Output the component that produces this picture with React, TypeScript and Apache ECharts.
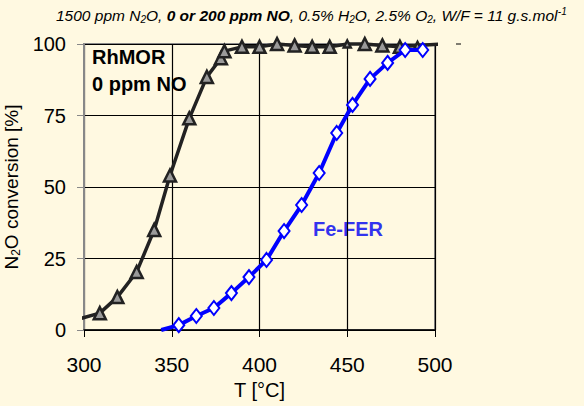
import React, { useEffect, useRef } from "react";
import * as echarts from "echarts";

const rhTemps = [298, 309, 319, 330, 340, 349, 360, 370, 378, 380, 390, 400, 410, 420, 430, 440, 450, 460, 470, 480, 490, 503];
const rhConv = [4, 5.9, 11.5, 20.3, 35, 54, 74, 88.5, 95, 97.5, 99, 99, 100, 99.5, 99, 99, 100, 100, 99.5, 99, 99.5, 100];
const feTemps = [344, 354, 364, 374, 384, 394, 404, 414, 424, 434, 444, 453, 463, 473, 483, 493];
const feConv = [0, 1.7, 4.9, 7.7, 12.9, 18.5, 24.5, 34.6, 43.7, 54.9, 68.9, 78.7, 87.8, 93.4, 97.9, 97.9];
const xTicks = [300, 350, 400, 450, 500];
const yTicks = [0, 25, 50, 75, 100];

export default function App() {
  const ref = useRef<HTMLDivElement>(null);
  useEffect(() => {
    const chart = echarts.init(ref.current!, null, { renderer: "svg" });
    const font = "Arial, 'Liberation Sans', sans-serif";
    const rhData = rhTemps.map((t, i) => {
      const item: any = { value: [t, rhConv[i]] };
      if (i === 0 || i === rhTemps.length - 1) item.symbol = "none";
      if (t === 450 || t === 490) item.symbolSize = 7;
      return item;
    });
    const feData = feTemps.map((t, i) => {
      const item: any = { value: [t, feConv[i]] };
      if (i === 0) item.symbol = "none";
      return item;
    });
    chart.setOption({
      animation: false,
      backgroundColor: "#FFF9E1",
      grid: { left: 84, right: 149, top: 44, bottom: 76, outerBoundsMode: "none", containLabel: false, show: true, borderColor: "#888", borderWidth: 2, backgroundColor: "transparent" },
      xAxis: {
        type: "value", min: xTicks[0], max: xTicks[xTicks.length - 1], interval: 50,
        name: "T [°C]", nameLocation: "middle", nameGap: 48,
        nameTextStyle: { fontFamily: font, fontSize: 20, color: "#000" },
        axisLine: { show: true, lineStyle: { color: "#000", width: 1.5 } },
        axisTick: { show: true, length: 7, lineStyle: { color: "#000" } },
        axisLabel: { fontFamily: font, fontSize: 21, color: "#000", margin: 24 },
        splitLine: { show: true, lineStyle: { color: "#000", width: 1.2 } },
      },
      yAxis: {
        type: "value", min: yTicks[0], max: yTicks[yTicks.length - 1], interval: 25,
        name: "{a|N}{s|2}{a|O conversion [%]}", nameLocation: "middle", nameGap: 48, nameRotate: 90,
        nameTextStyle: { fontFamily: font, fontSize: 19, color: "#000",
          rich: { a: { fontFamily: font, fontSize: 19, color: "#000" }, s: { fontFamily: font, fontSize: 12, color: "#000", verticalAlign: "bottom", padding: [9, 0, 0, 0] } } },
        axisLine: { show: true, lineStyle: { color: "#888", width: 2 } },
        axisTick: { show: true, length: 7, lineStyle: { color: "#888" } },
        axisLabel: { fontFamily: font, fontSize: 20, color: "#000", margin: 18 },
        splitLine: { show: true, lineStyle: { color: "#000", width: 1.2 } },
      },
      series: [
        {
          type: "line", data: rhData, clip: false, symbol: "triangle", symbolSize: 12,
          lineStyle: { color: "#222", width: 3.5 },
          itemStyle: { color: "#9a9a9a", borderColor: "#222", borderWidth: 2.5 },
          z: 3,
        },
        {
          type: "line", data: feData, clip: false, symbol: "diamond", symbolSize: [11, 14],
          lineStyle: { color: "#0000ff", width: 4 },
          itemStyle: { color: "#fff", borderColor: "#0000ff", borderWidth: 2 },
          z: 4,
        },
      ],
      graphic: [
        {
          type: "text", left: 56, top: 6,
          style: {
            text: "{i|1500 ppm N}{s|2}{i|O, }{b|0 or 200 ppm NO}{i|, 0.5% H}{s|2}{i|O, 2.5% O}{s|2}{i|, W/F = 11 g.s.mol}{u|-1}",
            rich: {
              i: { fontFamily: font, fontSize: 15.5, fontStyle: "italic", fill: "#000" },
              b: { fontFamily: font, fontSize: 15.5, fontStyle: "italic", fontWeight: "bold", fill: "#000" },
              s: { fontFamily: font, fontSize: 10, fontStyle: "italic", fill: "#000", verticalAlign: "bottom", padding: [8, 0, 0, 0] },
              u: { fontFamily: font, fontSize: 10, fontStyle: "italic", fill: "#000", verticalAlign: "top", padding: [0, 0, 8, 0] },
            },
          },
        },
        {
          type: "text", left: 92, top: 43,
          style: { text: "RhMOR\n0 ppm NO", fontFamily: font, fontSize: 20, fontWeight: "bold", fill: "#000", lineHeight: 27 },
        },
        {
          type: "text", left: 313, top: 219,
          style: { text: "Fe-FER", fontFamily: font, fontSize: 20, fontWeight: "bold", fill: "#3333ee" },
        },
        {
          type: "line", shape: { x1: 456, y1: 44, x2: 461, y2: 44 }, style: { stroke: "#000", lineWidth: 1 },
        },
      ],
    });
    return () => chart.dispose();
  }, []);
  return <div ref={ref} style={{ width: 584, height: 406, position: "absolute", left: 0, top: 0 }} />;
}
